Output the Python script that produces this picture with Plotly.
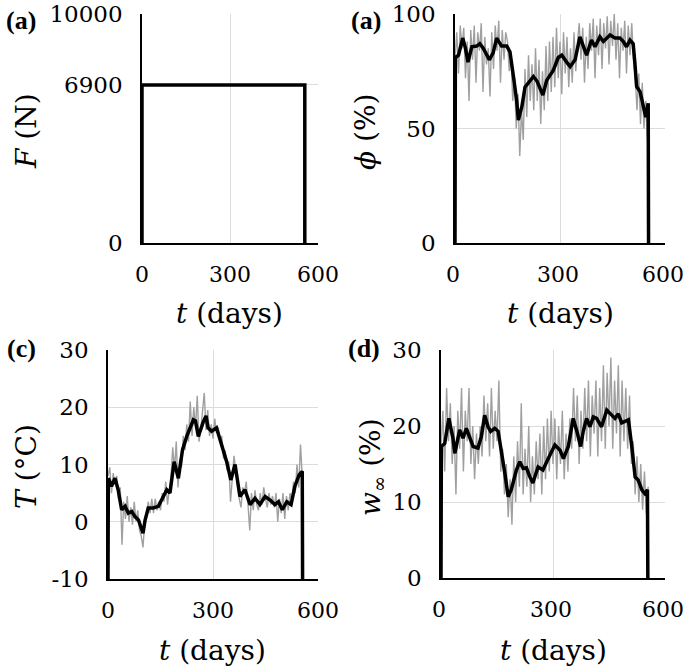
import plotly.graph_objects as go

# ---------------- data ----------------
T_END = 555
force_days = [0, 0, T_END, T_END]
force_vals = [0, 6900, 6900, 0]

# daily (gray) series sampled every 5 days, t = 0..555
gray_step = 5
phi_gray = [80, 92, 74, 95, 85, 94, 72, 88, 62, 93,
            80, 95, 70, 92, 84, 96, 66, 90, 78, 85,
            64, 92, 76, 95, 84, 97, 70, 93, 80, 92,
            88, 75, 82, 62, 72, 50, 65, 38, 58, 45,
            76, 55, 82, 62, 78, 58, 85, 62, 80, 52,
            75, 58, 86, 62, 88, 66, 90, 68, 94, 72,
            88, 65, 92, 74, 90, 68, 85, 70, 92, 75,
            88, 96, 80, 94, 70, 90, 76, 96, 84, 98,
            72, 95, 82, 98, 76, 96, 85, 99, 78, 97,
            86, 100, 80, 96, 72, 94, 84, 97, 74, 95,
            82, 96, 80, 72, 58, 74, 52, 70, 50, 62,
            45, 60]
temp_gray = [8, 9.5, 5, 8.5, 6.5, 8, 4, 6, -4, 3.5,
             0.5, 4.5, 0, 2.5, -0.5, 3.5, 0, 2, -1.5, -2.5,
             -4.5, 0, 1, 3.5, 1.5, 4, 1.5, 4, 2, 3.5,
             2, 5, 3.5, 7, 3, 5.5, 8, 13, 9, 14,
             6, 11, 9.5, 15, 12.5, 17, 14, 21, 15, 20,
             16.5, 22, 14, 16, 19, 22.5, 16, 19.5, 15, 17,
             14.5, 18, 15.5, 16.5, 14, 15, 11, 12.5, 9, 10.5,
             3.5, 8.5, 11.5, 9, 6, 4, 2.5, 6, 5, 7,
             3, -1.5, 5, 2, 5.5, 3, 2, 5, 3, 6,
             4, 2.5, 5, 3, 4.5, 2.5, 5, 0, 4, 1.5,
             5, 0.5, 4.5, 2, 5, 3.5, 7, 5, 10, 6,
             13.5, 8]
w_gray = [17, 22, 14, 25, 18, 23, 15, 20, 11, 22,
          17, 25, 14, 22, 18, 25, 15, 20, 13, 19,
          15, 20, 16, 24, 18, 23, 16, 25, 17, 22,
          18, 26, 14, 17, 11, 15, 8, 13, 7, 16,
          10, 18, 12, 23, 11, 17, 12, 20, 10, 16,
          11, 18, 13, 19, 11, 20, 13, 21, 14, 22,
          15, 21, 13, 20, 15, 22, 13, 19, 14, 21,
          17, 25, 18, 24, 15, 22, 17, 25, 18, 26,
          16, 24, 19, 26, 16, 25, 18, 28, 17, 27,
          20, 29, 17, 26, 19, 28, 16, 26, 18, 25,
          17, 24, 15, 18, 11, 16, 10, 15, 9, 14,
          8.5, 12]

# smoothed (black) series
phi_days = [0, 1, 10, 22, 30, 37, 48, 62, 71, 81, 98, 109, 119, 133, 148, 157, 167, 176,
            181, 191, 200, 214, 224, 235, 251, 262, 271, 281, 295, 305, 319, 329, 343,
            357, 376, 390, 400, 414, 424, 443, 457, 471, 481, 490, 500, 509, 514, 519,
            529, 538, 545, 552, 553]
phi_vals = [0, 81, 82, 89.5, 85, 79, 85.7, 86, 87, 85, 80, 83, 89.5, 86, 86, 83.5, 72.7, 62.4,
            53.7, 59.5, 68, 71, 72.7, 70.5, 64.6, 71, 73.4, 75.5, 81, 82, 79, 77, 80,
            90, 82, 88.6, 85.7, 90, 88, 90.8, 89.5, 89.5, 88, 85.7, 88.6, 87, 78.5, 68.3,
            66, 59.5, 55, 61, 0]
temp_days = [0, 1, 10, 20, 29, 39, 49, 58, 68, 77, 87, 96, 100, 106, 115, 129, 144, 158,
             168, 177, 189, 201, 213, 225, 234, 244, 250, 258, 272, 280, 286, 296, 310, 325,
             339, 351, 363, 377, 391, 406, 420, 434, 449, 463, 477, 487, 498, 511, 523,
             534, 546, 555, 556]
temp_vals = [-10, 7.6, 6.2, 7.6, 5.6, 2.1, 2.7, 1.5, 1.8, 0.9, 0.3, -1.1, -2.0, 0.3, 2.4, 2.4, 2.7, 4.4,
             5.6, 5.0, 10.5, 7.6, 12.6, 14.9, 16.4, 17.8, 17.6, 14.9, 17.4, 18.5, 16.4, 15.8, 16.4, 13.4,
             10.5, 7.3, 10, 4.4, 5.6, 3.0, 4.1, 3.0, 4.4, 3.8, 3.0, 3.5, 2.1, 3.5, 3.0,
             6.2, 8.2, 8.8, -10]
w_days = [0, 1, 10, 21, 32, 37, 50, 59, 68, 77, 86, 99, 108, 117, 126, 133, 144, 153, 162,
          171, 180, 188, 202, 211, 220, 229, 238, 246, 260, 273, 287, 300, 305, 319, 328,
          341, 354, 364, 374, 381, 390, 399, 408, 417, 430, 444, 453, 466, 475, 484, 493,
          502, 511, 520, 528, 538, 546, 553, 554]
w_vals = [0, 17.3, 17.7, 21, 18.4, 16.4, 19.5, 18.4, 19.7, 18.4, 17.3, 17.1, 18.6, 21.4, 19.9, 19.3,
          19.7, 19.3, 16.8, 13.8, 10.7, 11.6, 14.2, 15.3, 14.4, 14.5, 13.3, 12.5, 14.6, 14.2,
          15.7, 17.1, 17.5, 16.8, 15.7, 17.3, 21, 19.3, 17.3, 19.3, 21, 19.9, 21.2, 21, 19.9,
          22.1, 21.6, 21, 21.6, 20.4, 20.6, 20.8, 17.3, 13.3, 12.9, 11.6, 11.1, 11.6, 0]

x_ticks = [0, 300, 600]
f_ticks = [0, 6900, 10000]
phi_ticks = [0, 50, 100]
temp_ticks = [-10, 0, 10, 20, 30]
w_ticks = [0, 10, 20, 30]

gray_days = [gray_step * i for i in range(len(phi_gray))]

# ---------------- figure ----------------
W, H = 685, 667
FONT = "DejaVu Serif"
LETTER_FONT = "Liberation Serif"
GRAY = "#a0a0a0"
BLACK = "#000000"

fig = go.Figure()

def line(x, y, xa, ya, color, width):
    fig.add_trace(go.Scatter(x=x, y=y, xaxis=xa, yaxis=ya, mode="lines",
                             line=dict(color=color, width=width), showlegend=False,
                             hoverinfo="skip"))

line(force_days, force_vals, "x", "y", BLACK, 3.5)
line(gray_days, phi_gray, "x2", "y2", GRAY, 1.4)
line(phi_days, phi_vals, "x2", "y2", BLACK, 3.5)
line(gray_days, temp_gray, "x3", "y3", GRAY, 1.4)
line(temp_days, temp_vals, "x3", "y3", BLACK, 3.5)
line(gray_days, w_gray, "x4", "y4", GRAY, 1.4)
line(w_days, w_vals, "x4", "y4", BLACK, 3.5)

def fx(px):
    return px / W

def fy(py):
    return 1 - py / H

panels = [
    # (x pixel span, y pixel span, y range, y ticks, x label shift)
    ((142, 318), (14, 243), [0, 10000], f_ticks, 0),
    ((455, 665), (14, 243), [0, 100], phi_ticks, -2),
    ((108, 318), (350, 579), [-10, 30], temp_ticks, 0),
    ((441, 665), (350, 578), [0, 30], w_ticks, -2),
]

ytickfont = dict(family=FONT, size=23, color="black")
xtickfont = dict(family=FONT, size=22, color="black")
layout = dict(width=W, height=H, margin=dict(l=0, r=0, t=0, b=0, autoexpand=False),
              paper_bgcolor="white", plot_bgcolor="white", showlegend=False,
              template="none")
for i, (xs, ys, yr, yt, shift) in enumerate(panels):
    sfx = "" if i == 0 else str(i + 1)
    layout["xaxis" + sfx] = dict(domain=[fx(xs[0]), fx(xs[1])], range=[0, 600], tickvals=x_ticks,
                                 ticktext=[str(v) for v in x_ticks],
                                 showgrid=True, gridcolor="#dcdcdc", gridwidth=1,
                                 showline=True, linecolor="black", linewidth=1.5,
                                 zeroline=False, ticks="", tickfont=xtickfont,
                                 ticklabelstandoff=11, ticklabelshift=shift,
                                 automargin=False, ticklabeloverflow="allow",
                                 anchor="y" + sfx, fixedrange=True)
    layout["yaxis" + sfx] = dict(domain=[fy(ys[1]), fy(ys[0])], range=yr, tickvals=yt,
                                 ticktext=[str(v) for v in yt],
                                 showgrid=True, gridcolor="#dcdcdc", gridwidth=1,
                                 showline=True, linecolor="black", linewidth=1.5,
                                 zeroline=False, ticks="", tickfont=ytickfont,
                                 ticklabelstandoff=13, automargin=False,
                                 ticklabeloverflow="allow",
                                 anchor="x" + sfx, fixedrange=True)
fig.update_layout(**layout)

annotations = []
def ann(text, x, y, size=28, angle=0, bold=False, family=FONT):
    annotations.append(dict(text=("<b>%s</b>" % text) if bold else text,
                            x=fx(x), y=fy(y), xref="paper", yref="paper",
                            showarrow=False, textangle=angle,
                            font=dict(family=family, size=size, color="black"),
                            xanchor="center", yanchor="middle"))

# panel letters
ann("(a)", 21, 21, size=26, bold=True, family=LETTER_FONT)
ann("(a)", 366, 21, size=26, bold=True, family=LETTER_FONT)
ann("(c)", 21, 348, size=26, bold=True, family=LETTER_FONT)
ann("(d)", 364, 348, size=26, bold=True, family=LETTER_FONT)

# x titles
ann("<i>t</i> (days)", 229, 313)
ann("<i>t</i> (days)", 560, 313)
ann("<i>t</i> (days)", 213, 650)
ann("<i>t</i> (days)", 553, 650)

# y titles
ann("<i>F</i> (N)", 27, 131, angle=-90)
ann("<i>ϕ</i> (%)", 365, 132, angle=-90)
ann("<i>T</i> (°C)", 26, 467, angle=-90)
ann("<i>w</i><sub>∞</sub> (%)", 372, 467, angle=-90)

fig.update_layout(annotations=annotations)
fig.write_html("out.html", config={"displayModeBar": False},
               post_script="document.body.style.margin='0';document.body.style.overflow='hidden';")
